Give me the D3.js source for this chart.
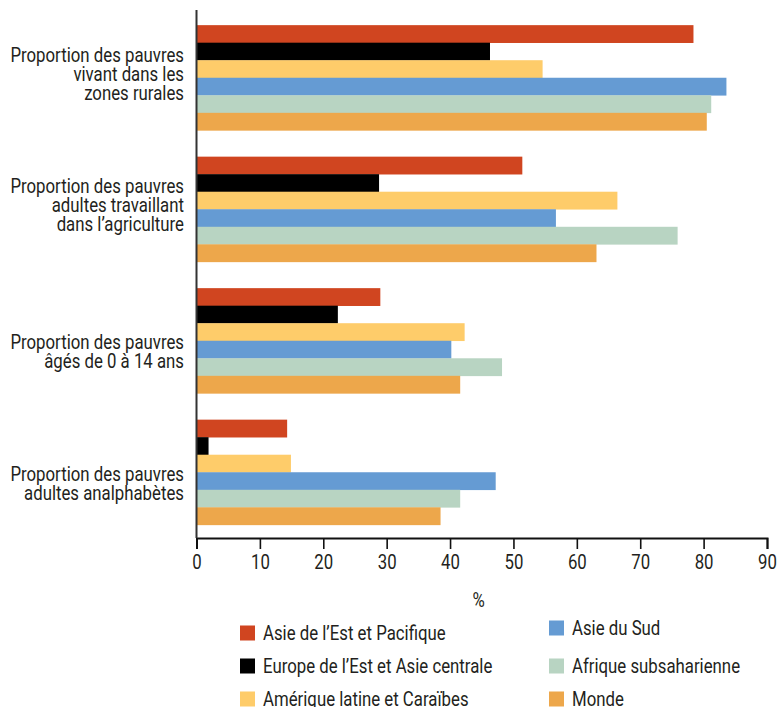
<!DOCTYPE html>
<html>
<head>
<meta charset="utf-8">
<script src="https://cdn.jsdelivr.net/npm/d3@7"></script>
<style>
  html, body { margin: 0; padding: 0; background: #fff; }
  svg text { font-family: "Roboto", "Liberation Sans", sans-serif; font-weight: 400; fill: #231f20; }
</style>
</head>
<body>
<svg id="chart" width="777" height="707"></svg>
<script>
// Indicator groups (one block of bars each), with their wrapped label lines
const categories = [
  "Proportion des pauvres vivant dans les zones rurales",
  "Proportion des pauvres adultes travaillant dans l’agriculture",
  "Proportion des pauvres âgés de 0 à 14 ans",
  "Proportion des pauvres adultes analphabètes"
];
const categoryLines = [
  ["Proportion des pauvres", "vivant dans les", "zones rurales"],
  ["Proportion des pauvres", "adultes travaillant", "dans l’agriculture"],
  ["Proportion des pauvres", "âgés de 0 à 14 ans"],
  ["Proportion des pauvres", "adultes analphabètes"]
];

// Regions (series), in bar order within each group
const regions = [
  "Asie de l’Est et Pacifique",
  "Europe de l’Est et Asie centrale",
  "Amérique latine et Caraïbes",
  "Asie du Sud",
  "Afrique subsaharienne",
  "Monde"
];
const regionColors = ["#d04520", "#000000", "#fecc6a", "#659bd3", "#b8d4c2", "#eda74b"];

// Percentages per region, one value per indicator group
const eastAsiaPacific     = [78.4, 51.4, 29.0, 14.3];
const europeCentralAsia   = [46.3, 28.8, 22.3, 1.9];
const latinAmericaCarib   = [54.6, 66.4, 42.3, 14.9];
const southAsia           = [83.6, 56.7, 40.2, 47.2];
const subSaharanAfrica    = [81.2, 75.9, 48.2, 41.6];
const world               = [80.5, 63.1, 41.6, 38.5];
const seriesValues = [eastAsiaPacific, europeCentralAsia, latinAmericaCarib, southAsia, subSaharanAfrica, world];

const xTicks = [0, 10, 20, 30, 40, 50, 60, 70, 80, 90];
const xAxisTitle = "%";

// Horizontal squeeze applied to all text for a condensed look
const condense = 0.84;
const fontSize = 20;

const svg = d3.select("#chart");

const plotLeft = 196.5, plotRight = 767, plotTop = 10, plotBottom = 538;

const x = d3.scaleLinear().domain([0, 90]).range([plotLeft, plotRight]);
const y0 = d3.scaleBand().domain(d3.range(categories.length))
  .range([plotTop + 2, plotBottom]).paddingInner(0.2).paddingOuter(0.1);
const y1 = d3.scaleBand().domain(d3.range(regions.length)).range([0, y0.bandwidth()]);

// Bars
const groups = svg.append("g").selectAll("g")
  .data(categories)
  .join("g")
  .attr("transform", (d, i) => `translate(0,${y0(i)})`);

groups.selectAll("rect")
  .data((d, i) => seriesValues.map((s, r) => ({ r, v: s[i] })))
  .join("rect")
  .attr("x", x(0))
  .attr("y", d => y1(d.r))
  .attr("width", d => x(d.v) - x(0))
  .attr("height", y1.bandwidth() + 0.3)
  .attr("fill", d => regionColors[d.r]);

// Category labels, right aligned against the vertical axis
const lineH = 19;
categoryLines.forEach((lines, i) => {
  const c = y0(i) + y0.bandwidth() / 2 + (lines.length === 3 ? -4 : 11);
  const t = svg.append("g")
    .attr("transform", `translate(184,0) scale(${condense},1)`)
    .append("text")
    .attr("text-anchor", "end")
    .attr("font-size", fontSize);
  lines.forEach((ln, j) => {
    t.append("tspan")
      .attr("x", 0)
      .attr("y", c + (j - (lines.length - 1) / 2) * lineH)
      .attr("dy", "0.35em")
      .text(ln);
  });
});

// Bottom axis
const xAxis = d3.axisBottom(x).tickValues(xTicks).tickSize(11).tickPadding(6).tickFormat(d3.format("d"));
const gx = svg.append("g").attr("transform", `translate(0,${plotBottom})`).call(xAxis);
gx.select(".domain").attr("stroke", "#111").attr("stroke-width", 2);
gx.selectAll(".tick line").attr("stroke", "#111").attr("stroke-width", 1.6);
gx.selectAll(".tick text").attr("font-size", fontSize).attr("fill", "#231f20")
  .attr("transform", `scale(${condense},1)`)
  .style("font-family", "Roboto, sans-serif").style("font-weight", 400);

// Vertical axis line
svg.append("line")
  .attr("x1", x(0)).attr("x2", x(0))
  .attr("y1", plotTop).attr("y2", plotBottom)
  .attr("stroke", "#333").attr("stroke-width", 2);

svg.append("g")
  .attr("transform", `translate(${(plotLeft + plotRight) / 2 - 3},600) scale(${condense},1)`)
  .append("text")
  .attr("dy", "0.35em")
  .attr("text-anchor", "middle")
  .attr("font-size", fontSize)
  .text(xAxisTitle);

// Legend: two columns of three
const legendCols = [240, 549];
const legendRows = [633, 666, 699];
regions.forEach((name, i) => {
  const col = Math.floor(i / 3), row = i % 3;
  const cy = legendRows[row] + (col === 1 && row === 0 ? -5 : 0);
  const g = svg.append("g").attr("transform", `translate(${legendCols[col]},${cy})`);
  g.append("rect").attr("x", 0).attr("y", -7.5).attr("width", 15).attr("height", 15)
    .attr("fill", regionColors[i]);
  g.append("g").attr("transform", `translate(23,0) scale(${condense},1)`)
    .append("text").attr("dy", "0.35em")
    .attr("font-size", fontSize).text(name);
});
</script>
</body>
</html>
